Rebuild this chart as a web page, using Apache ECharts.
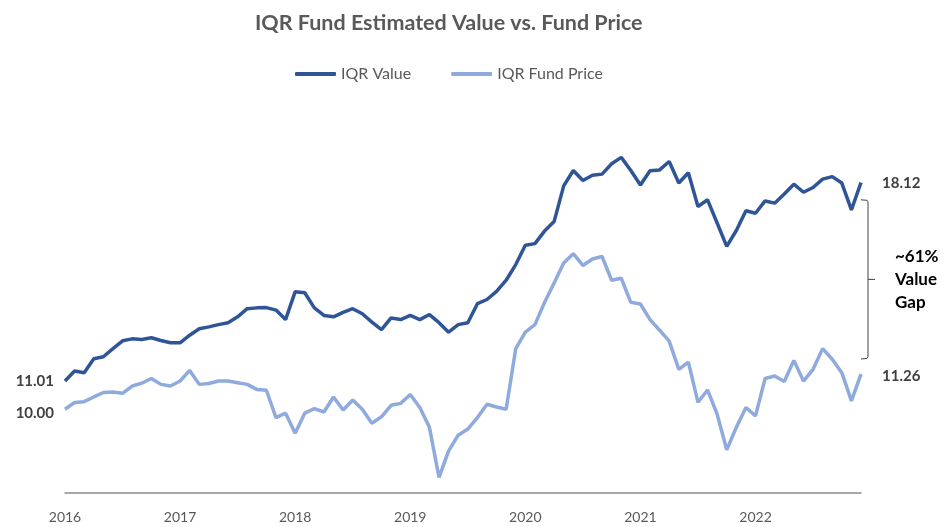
<!DOCTYPE html>
<html>
<head>
<meta charset="utf-8">
<title>IQR Fund Estimated Value vs. Fund Price</title>
<script src="https://cdn.jsdelivr.net/npm/echarts@6/dist/echarts.min.js"></script>
<style>
  html, body { margin: 0; padding: 0; background: #fff; }
  #chart { width: 948px; height: 527px; }
</style>
</head>
<body>
<div id="chart"></div>
<script>
  // monthly points, Jan 2016 .. Dec 2022
  const years = ['2016', '2017', '2018', '2019', '2020', '2021', '2022'];
  const months = [];
  years.forEach(function (y) {
    for (let m = 1; m <= 12; m++) months.push(y + '-' + (m < 10 ? '0' + m : m));
  });

  const iqrValue = [
    11.01, 11.37, 11.31, 11.81, 11.88, 12.17, 12.45, 12.52, 12.50, 12.56, 12.46, 12.38,
    12.38, 12.65, 12.88, 12.95, 13.03, 13.10, 13.31, 13.60, 13.63, 13.64, 13.55, 13.21,
    14.21, 14.17, 13.63, 13.36, 13.31, 13.47, 13.60, 13.42, 13.12, 12.85, 13.27, 13.21,
    13.36, 13.21, 13.39, 13.10, 12.76, 13.03, 13.10, 13.78, 13.93, 14.22, 14.62, 15.18,
    15.87, 15.93, 16.38, 16.72, 18.00, 18.55, 18.19, 18.38, 18.42, 18.79, 19.02, 18.55,
    18.03, 18.54, 18.57, 18.87, 18.10, 18.47, 17.26, 17.50, 16.67, 15.83, 16.40, 17.11,
    17.02, 17.46, 17.38, 17.71, 18.06, 17.77, 17.94, 18.24, 18.33, 18.10, 17.14, 18.12
  ];

  const fundPrice = [
    10.00, 10.24, 10.27, 10.44, 10.60, 10.62, 10.57, 10.83, 10.93, 11.10, 10.89, 10.83,
    11.01, 11.39, 10.89, 10.92, 11.01, 11.01, 10.95, 10.89, 10.71, 10.68, 9.70, 9.86,
    9.14, 9.86, 10.02, 9.90, 10.44, 9.97, 10.33, 10.00, 9.50, 9.73, 10.14, 10.21,
    10.53, 10.06, 9.35, 7.56, 8.51, 9.07, 9.29, 9.70, 10.18, 10.08, 10.00, 12.17,
    12.76, 13.03, 13.82, 14.52, 15.24, 15.57, 15.15, 15.38, 15.47, 14.62, 14.69, 13.83,
    13.77, 13.21, 12.83, 12.44, 11.43, 11.69, 10.25, 10.69, 9.82, 8.55, 9.35, 10.06,
    9.76, 11.10, 11.19, 10.99, 11.75, 11.01, 11.43, 12.17, 11.79, 11.31, 10.30, 11.26
  ];

  // bracket between the two end values
  const gapTop = 17.5;
  const gapBottom = 11.8;
  const gapText = '~61%\nValue\nGap';

  const font = 'Lato, "Noto Sans", sans-serif';
  const darkBlue = '#2F5597';
  const lightBlue = '#8FAADC';
  const last = months.length - 1;

  function endLabels(data, firstOffset, lastOffset) {
    return {
      symbol: 'circle',
      symbolSize: 0,
      itemStyle: { color: 'transparent' },
      label: {
        show: true,
        color: '#404040',
        fontFamily: font,
        fontWeight: 'bold',
        fontSize: 15,
        formatter: function (p) { return p.value.toFixed(2); }
      },
      data: [
        { coord: [0, data[0]], value: data[0], label: { position: 'left', distance: 11, offset: [0, firstOffset] } },
        { coord: [last, data[last]], value: data[last], label: { position: 'right', distance: 21, offset: [0, lastOffset] } }
      ]
    };
  }

  const chart = echarts.init(document.getElementById('chart'));
  const option = {
    animation: false,
    title: {
      text: 'IQR Fund Estimated Value vs. Fund Price',
      left: 250,
      top: 7,
      textStyle: { color: '#595959', fontFamily: font, fontWeight: 'bold', fontSize: 21.5 }
    },
    legend: {
      top: 61,
      left: 290,
      icon: 'roundRect',
      itemWidth: 41,
      itemHeight: 4,
      itemGap: 40,
      textStyle: { color: '#595959', fontFamily: font, fontSize: 16, padding: [0, 0, 0, 0] },
      data: ['IQR Value', 'IQR Fund Price']
    },
    grid: { left: 65, right: 87, top: 130, bottom: 34 },
    xAxis: {
      type: 'category',
      data: months,
      boundaryGap: false,
      axisLine: { lineStyle: { color: '#8c8c8c', width: 1.5 } },
      axisTick: { show: false },
      axisLabel: {
        interval: 11,
        margin: 17,
        color: '#595959',
        fontFamily: font,
        fontSize: 14,
        formatter: function (v) { return v.slice(0, 4); }
      }
    },
    yAxis: {
      type: 'value',
      min: 7,
      max: 20,
      show: false
    },
    series: [
      {
        name: 'IQR Value',
        type: 'line',
        data: iqrValue,
        showSymbol: false,
        color: darkBlue,
        lineStyle: { color: darkBlue, width: 3.5 },
        markPoint: endLabels(iqrValue, 0, 1)
      },
      {
        name: 'IQR Fund Price',
        type: 'line',
        data: fundPrice,
        showSymbol: false,
        color: lightBlue,
        lineStyle: { color: lightBlue, width: 3.5 },
        markPoint: endLabels(fundPrice, 4, 2)
      }
    ]
  };
  chart.setOption(option);

  // bracket + gap text, placed from the data coordinates
  const pTop = chart.convertToPixel({ seriesIndex: 0 }, [last, gapTop]);
  const pBot = chart.convertToPixel({ seriesIndex: 0 }, [last, gapBottom]);
  const bx = pTop[0] + 7;
  const midY = (pTop[1] + pBot[1]) / 2;
  chart.setOption({
    graphic: [
      {
        type: 'polyline',
        shape: { points: [[pTop[0], pTop[1]], [bx - 1, pTop[1] + 0.5], [bx, pTop[1] + 2], [bx, pBot[1] - 2], [bx - 1, pBot[1] - 0.5], [pTop[0], pBot[1]]] },
        style: { stroke: '#404040', lineWidth: 1, fill: null }
      },
      {
        type: 'line',
        shape: { x1: bx, y1: midY, x2: bx + 7, y2: midY },
        style: { stroke: '#404040', lineWidth: 1 }
      },
      {
        type: 'text',
        x: bx + 27,
        y: midY,
        style: {
          text: gapText,
          fill: '#000',
          font: 'bold 17px ' + font,
          lineHeight: 23,
          align: 'left',
          verticalAlign: 'middle'
        }
      }
    ]
  });
</script>
</body>
</html>
